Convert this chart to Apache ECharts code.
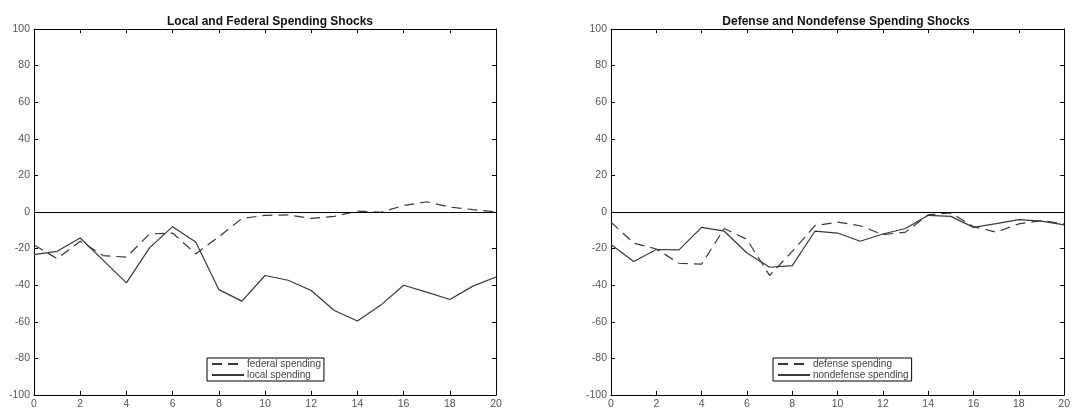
<!DOCTYPE html>
<html>
<head>
<meta charset="utf-8">
<script src="https://cdn.jsdelivr.net/npm/echarts@6/dist/echarts.min.js"></script>
<style>
  html, body { margin: 0; padding: 0; background: #fff; }
  #chart { width: 1073px; height: 410px; }
</style>
</head>
<body>
<div id="chart"></div>
<script>
// horizon (quarters after shock)
var horizon = [0, 1, 2, 3, 4, 5, 6, 7, 8, 9, 10, 11, 12, 13, 14, 15, 16, 17, 18, 19, 20];

// left panel
var federalSpending = [-18, -25.5, -16, -23.8, -24.7, -12, -11.5, -22.9, -13.5, -3.6, -1.8, -1.6, -3.5, -2.4, 0.5, -0.2, 3.5, 5.6, 2.7, 1.3, 0];
var localSpending = [-23.3, -21.5, -14.2, -26.4, -38.7, -19.6, -8, -16.4, -42.4, -48.7, -34.7, -37.3, -42.9, -53.8, -59.6, -51, -40, -43.8, -47.8, -40.5, -35.5];

// right panel
var defenseSpending = [-5.5, -17, -20.2, -28, -28.5, -9, -15, -34.7, -21.5, -7.5, -5.5, -7.5, -12.4, -11, -1.5, -0.5, -8, -11, -6.5, -4.7, -6.5];
var nondefenseSpending = [-17.8, -27, -20.5, -20.7, -8.4, -10.5, -22.4, -30.2, -29.3, -10.5, -11.5, -16, -12, -9, -1.8, -2.4, -8.4, -6.4, -4.2, -5, -7];

var titles = ['Local and Federal Spending Shocks', 'Defense and Nondefense Spending Shocks'];

function pairs(arr) {
    return horizon.map(function(h, i) { return [h, arr[i]]; });
}

var font = 'Liberation Sans, Arial, sans-serif';
var lineColor = '#383838';

function xAx(grid, pos) {
    return {
        type: 'value', gridIndex: grid, position: pos,
        min: 0, max: 20, interval: 2,
        axisLine: { show: true, onZero: false, lineStyle: { color: '#000', width: 1 } },
        axisTick: { show: true, inside: true, length: 4, lineStyle: { color: '#000' } },
        axisLabel: { show: pos === 'bottom', color: '#555', fontSize: 10.5, fontFamily: font, margin: 4 },
        splitLine: { show: false }
    };
}
function yAx(grid, pos) {
    return {
        type: 'value', gridIndex: grid, position: pos,
        min: -100, max: 100, interval: 20,
        axisLine: { show: true, onZero: false, lineStyle: { color: '#000', width: 1 } },
        axisTick: { show: true, inside: true, length: 4, lineStyle: { color: '#000' } },
        axisLabel: { show: pos === 'left', color: '#555', fontSize: 10.5, fontFamily: font, margin: 4 },
        splitLine: { show: false }
    };
}

function lineSeries(name, data, xi, yi, dashed, zero) {
    var s = {
        name: name, type: 'line', xAxisIndex: xi, yAxisIndex: yi,
        data: pairs(data), symbol: 'none', animation: false,
        lineStyle: { color: lineColor, width: 1.2, type: dashed ? [10, 6] : 'solid' },
        itemStyle: { color: lineColor }
    };
    if (zero) {
        s.markLine = {
            silent: true, symbol: 'none', label: { show: false },
            lineStyle: { color: '#000', width: 1, type: 'solid' },
            data: [{ yAxis: 0 }]
        };
    }
    return s;
}

var legendBase = {
    orient: 'vertical', itemGap: 1, itemWidth: 32, itemHeight: 12,
    borderColor: '#000', borderWidth: 1, borderRadius: 0, backgroundColor: '#fff',
    padding: [1, 3, 1, 4],
    itemStyle: { opacity: 0 },
    textStyle: { fontSize: 10, color: '#444', fontFamily: font, padding: [0, 0, 0, -2] }
};

var chart = echarts.init(document.getElementById('chart'));
chart.setOption({
    backgroundColor: '#fff',
    title: [
        { text: titles[0], left: 265, top: 11, textAlign: 'center',
          textStyle: { fontSize: 12, fontWeight: 'bold', color: '#111', fontFamily: font } },
        { text: titles[1], left: 841, top: 11, textAlign: 'center',
          textStyle: { fontSize: 12, fontWeight: 'bold', color: '#111', fontFamily: font } }
    ],
    legend: [
        Object.assign({ left: 207, top: 358, data: ['federal spending', 'local spending'] }, legendBase),
        Object.assign({ left: 773, top: 358, data: ['defense spending', 'nondefense spending'] }, legendBase)
    ],
    grid: [
        { left: 34, right: 577, top: 29, bottom: 14 },
        { left: 611, right: 1, top: 29, bottom: 14 }
    ],
    xAxis: [xAx(0, 'bottom'), xAx(0, 'top'), xAx(1, 'bottom'), xAx(1, 'top')],
    yAxis: [yAx(0, 'left'), yAx(0, 'right'), yAx(1, 'left'), yAx(1, 'right')],
    series: [
        lineSeries('federal spending', federalSpending, 0, 0, true, true),
        lineSeries('local spending', localSpending, 0, 0, false, false),
        lineSeries('defense spending', defenseSpending, 2, 2, true, true),
        lineSeries('nondefense spending', nondefenseSpending, 2, 2, false, false)
    ]
});
</script>
</body>
</html>
